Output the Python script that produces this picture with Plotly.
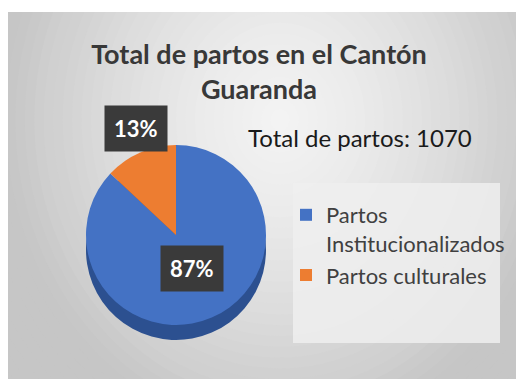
import plotly.graph_objects as go

# Data
categories = ["Partos<br>Institucionalizados", "Partos culturales"]
percentages = [87, 13]
total_partos = 1070
colors = ["#4472C4", "#ED7D31"]
side_colors = ["#2C5090", "#A9561F"]

W, H = 516, 379


def px_domain(cx, cy, r):
    """Convert a pixel centre/radius into a paper-fraction domain."""
    return dict(x=[(cx - r) / W, (cx + r) / W],
                y=[(H - cy - r) / H, (H - cy + r) / H])


def lerp_gray(t):
    light, dark = 0xF3, 0xC6
    v = int(round(light + (dark - light) * min(max(t, 0), 1)))
    return f"rgb({v},{v},{v})"


# Soft radial gray background
shapes = [dict(type="rect", xref="paper", yref="paper", x0=0, x1=1, y0=0, y1=1,
               fillcolor=lerp_gray(1), line_width=0, layer="below")]
gcx, gcy = 280, 120
steps = 40
for i in range(steps, 0, -1):
    d = 1.35 * i / steps
    rx, ry = 280 * d, 320 * d
    shapes.append(dict(type="circle", xref="paper", yref="paper",
                       x0=(gcx - rx) / W, x1=(gcx + rx) / W,
                       y0=(H - gcy - ry) / H, y1=(H - gcy + ry) / H,
                       fillcolor=lerp_gray(d ** 1.4), line_width=0, layer="below"))
# white frame on left and top
shapes.append(dict(type="rect", xref="paper", yref="paper", x0=0, x1=8 / W, y0=0, y1=1,
                   fillcolor="white", line_width=0, layer="below"))
shapes.append(dict(type="rect", xref="paper", yref="paper", x0=0, x1=1, y0=1 - 12 / H, y1=1,
                   fillcolor="white", line_width=0, layer="below"))
# legend panel
shapes.append(dict(type="rect", xref="paper", yref="paper",
                   x0=293 / W, x1=500 / W, y0=1 - 343 / H, y1=1 - 183 / H,
                   fillcolor="rgba(238,238,238,0.85)", line_width=0, layer="below"))

fig = go.Figure()

# pie "thickness" drawn as a darker copy just below the top face
fig.add_trace(go.Pie(
    labels=categories, values=percentages, sort=False, direction="clockwise",
    rotation=0, marker=dict(colors=side_colors, line=dict(width=0)),
    textinfo="none", hoverinfo="skip", showlegend=False,
    domain=px_domain(176, 250, 90),
))
fig.add_trace(go.Pie(
    labels=categories, values=percentages, sort=False, direction="clockwise",
    rotation=0, marker=dict(colors=colors, line=dict(width=0)),
    textinfo="none", showlegend=True,
    domain=px_domain(176, 235, 90),
))

# percentage labels in dark boxes
label_pos = [(192, 268), (136, 128)]
annotations = []
for (lx, ly), pct in zip(label_pos, percentages):
    annotations.append(dict(
        x=lx / W, y=1 - ly / H, xref="paper", yref="paper", showarrow=False,
        xanchor="center", yanchor="middle",
        text=f"<b>{pct}%</b>", bgcolor="#3a3a3a", borderpad=9,
        font=dict(family="Lato", size=22, color="white"),
    ))
annotations.append(dict(
    x=360 / W, y=1 - 137 / H, xref="paper", yref="paper", showarrow=False,
    xanchor="center", yanchor="middle",
    text=f"Total de partos: {total_partos}",
    font=dict(family="Lato", size=24, color="#1a1a1a"),
))

fig.update_layout(
    width=W, height=H, margin=dict(l=0, r=0, t=0, b=0),
    paper_bgcolor="white", plot_bgcolor="white",
    title=dict(text="<b>Total de partos en el Cantón<br>Guaranda</b>",
               x=259 / W, xanchor="center", y=1 - 64 / H, yanchor="middle",
               font=dict(family="Lato", size=27, color="#383838")),
    legend=dict(x=286 / W, y=1 - 194 / H, xanchor="left", yanchor="top",
                valign="top",
                bgcolor="rgba(0,0,0,0)", font=dict(family="Lato", size=22, color="#404040"),
                itemwidth=30),
    shapes=shapes, annotations=annotations,
)

fig.write_html("out.html")
